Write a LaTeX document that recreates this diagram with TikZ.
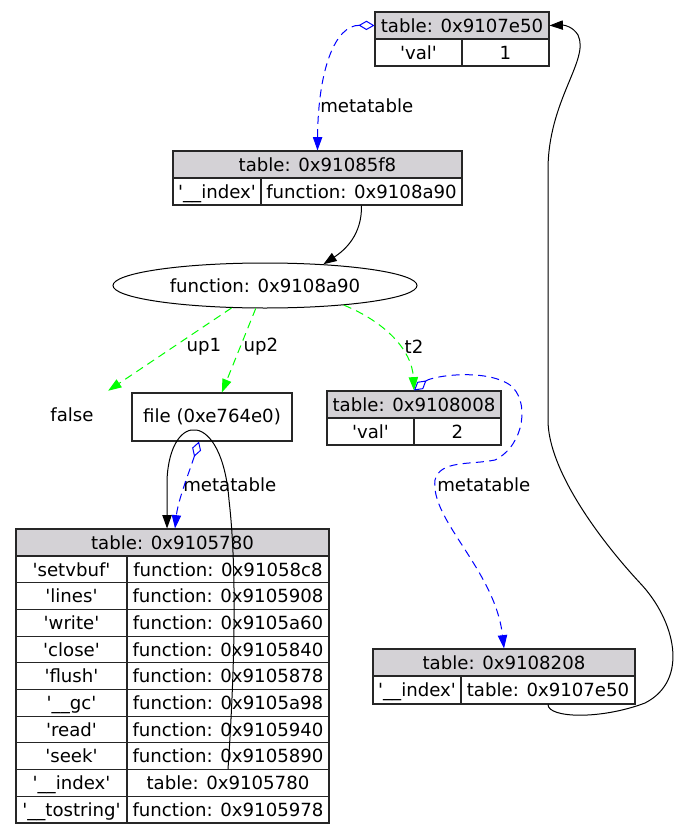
\documentclass[tikz,border=0pt]{standalone}
\usepackage{fontspec}
\setmainfont{DejaVu Sans}[Ligatures=TeXOff]
\usetikzlibrary{arrows.meta,shapes.geometric}
\definecolor{gris}{RGB}{212,210,214}

\begin{document}
\begin{tikzpicture}[x=0.75pt,y=-0.75pt]
% définition des styles
\tikzstyle{every node}=[font=\fontsize{13.6}{16}\selectfont]
\tikzstyle{cellule}=[rectangle, draw=black!85, line width=0.8pt, inner sep=0pt, minimum height=20.25pt, text height=11.5pt, text depth=1.5pt]
\tikzstyle{entete}=[cellule, fill=gris]
\tikzstyle{etiquette}=[inner sep=0pt]
\tikzstyle{fleche}=[-{Triangle[length=10pt, width=7pt]}, line width=0.75pt, color=black]
\tikzstyle{lienvert}=[-{Triangle[length=10pt, width=7pt]}, line width=0.75pt, color=green, dash pattern=on 6pt off 4pt]
\tikzstyle{meta}=[{Diamond[open, length=12pt, width=7pt]}-{Triangle[length=10pt, width=7pt]}, line width=0.75pt, color=blue, dash pattern=on 6pt off 4pt]

\useasboundingbox (0,0) rectangle (677,835);

% les nœuds
\node[entete, minimum width=130.5pt] (TA) at (462,25.5) {table: 0x9107e50};
\node[cellule, minimum width=65.25pt] (TAk) at (418.5,52.5) {'val'};
\node[cellule, minimum width=65.25pt] (TAv) at (505.5,52.5) {1};

\node[entete, minimum width=216.75pt] (TB) at (317.5,164.5) {table: 0x91085f8};
\node[cellule, minimum width=66pt] (TBk) at (217,191.5) {'\_\_index'};
\node[cellule, minimum width=150.75pt] (TBv) at (361.5,191.5) {function: 0x9108a90};

\node[ellipse, draw, line width=0.75pt, inner sep=0pt, minimum width=228pt, minimum height=33.75pt] (F) at (265,285.5) {function: 0x9108a90};

\node[minimum width=54pt, minimum height=36pt, inner sep=0pt] (Fa) at (72,415) {false};
\node[rectangle, draw=black!85, line width=0.8pt, minimum width=120pt, minimum height=36pt, inner sep=0pt] (Fi) at (212,417) {file (0xe764e0)};

\node[entete, minimum width=130.5pt] (TD) at (414,404.5) {table: 0x9108008};
\node[cellule, minimum width=65.25pt] (TDk) at (370.5,431.5) {'val'};
\node[cellule, minimum width=65.25pt] (TDv) at (457.5,431.5) {2};

\node[entete, minimum width=234.75pt] (TE) at (172.5,542.5) {table: 0x9105780};
\foreach \k/\v [count=\i] in {'setvbuf'/function: 0x91058c8, 'lines'/function: 0x9105908,
    'write'/function: 0x9105a60, 'close'/function: 0x9105840, 'flush'/function: 0x9105878,
    '\_\_gc'/function: 0x9105a98, 'read'/function: 0x9105940, 'seek'/function: 0x9105890,
    '\_\_index'/table: 0x9105780, '\_\_tostring'/function: 0x9105978}{
  \pgfmathsetmacro{\y}{556+26.7*(\i-0.5)}
  \node[cellule, minimum width=83.25pt, minimum height=20pt] (TEk\i) at (71.5,\y) {\k};
  \node[cellule, minimum width=151.5pt, minimum height=20pt] (TEv\i) at (228,\y) {\v};
}

\node[entete, minimum width=196.5pt] (TF) at (504,662.5) {table: 0x9108208};
\node[cellule, minimum width=66pt, minimum height=21pt] (TFk) at (417,690) {'\_\_index'};
\node[cellule, minimum width=130.5pt, minimum height=21pt] (TFv) at (548,690) {table: 0x9107e50};

% les étiquettes
\node[etiquette, anchor=west] (Lm1) at (320,106) {metatable};
\node[etiquette] (Lup1) at (204,347) {up1};
\node[etiquette] (Lup2) at (261,347) {up2};
\node[etiquette] (Lt2) at (414,347) {t2};
\node[etiquette, anchor=west] (Lm2) at (183,485) {metatable};
\node[etiquette, anchor=west] (Lm3) at (437,485) {metatable};

% les flèches
\draw[meta] (TA.west) .. controls (335,25) and (318,70) .. (TB.north);
\draw[fleche] (TBv.south) .. controls (362,235) and (345,250) .. (F.20);
\draw[lienvert] (F) -- (Fa);
\draw[lienvert] (F) -- (Fi);
\draw[lienvert] (F.-14) .. controls (385,322) and (412,350) .. (TD.north);
\draw[meta] ([xshift=-9.75pt]Fi.south) .. controls (190,470) and (178,500) .. ([xshift=1.9pt]TE.north);
\draw[fleche] (TEv9.north) .. controls (236,650) and (236,560) .. (229,500) .. controls (222,410) and (170,410) .. (167,480) -- ([xshift=-4.1pt]TE.north);
\draw[meta] (TD.north) .. controls (432,376) and (485,368) .. (510,385) .. controls (530,400) and (525,445) .. (495,460) .. controls (470,465) and (440,460) .. (435,480) .. controls (430,520) and (495,570) .. (TF.north);
\draw[fleche] (TFv.south) .. controls (548,718) and (600,720) .. (645,703) .. controls (690,680) and (675,620) .. (640,583) .. controls (600,540) and (548,470) .. (548,420) -- (548,170) .. controls (548,100) and (590,60) .. (578,35) .. controls (573,27) and (565,25) .. (TA.east);
\end{tikzpicture}
\end{document}
